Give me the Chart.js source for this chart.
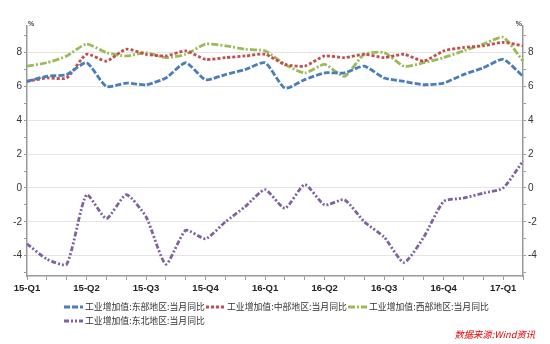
<!DOCTYPE html>
<html>
<head>
<meta charset="utf-8">
<script src="https://cdn.jsdelivr.net/npm/chart.js@4.4.1/dist/chart.umd.min.js"></script>
<style>
	html, body { margin: 0; padding: 0; background: #fff; }
	#wrap { position: relative; width: 550px; height: 344px; overflow: hidden; }
	#wrap canvas { position: absolute; left: 0; top: 0; }
	.legend-item { position: absolute; display: flex; align-items: center; font: 8.85px 'Noto Sans CJK SC'; color: #333; white-space: nowrap; line-height: 12px; }
	.legend-item svg { margin-right: 2px; }
	#source { position: absolute; right: 15px; top: 328px; font: italic 9.3px 'Noto Sans CJK SC'; color: #e60000; line-height: 12px; }
</style>
</head>
<body>
<div id="wrap">
	<canvas id="myChart" width="550" height="344"></canvas>
	<div id="legend"></div>
	<div id="source">数据来源:Wind资讯</div>
</div>
<script>
// monthly points, Feb 2015 .. Mar 2017
const months = [
	'2015-02', '2015-03', '2015-04', '2015-05', '2015-06', '2015-07', '2015-08', '2015-09', '2015-10', '2015-11', '2015-12',
	'2016-01', '2016-02', '2016-03', '2016-04', '2016-05', '2016-06', '2016-07', '2016-08', '2016-09', '2016-10', '2016-11', '2016-12',
	'2017-01', '2017-02', '2017-03'
]

// shown on every third month
const quarterLabels = ['15-Q1', '15-Q2', '15-Q3', '15-Q4', '16-Q1', '16-Q2', '16-Q3', '16-Q4', '17-Q1']

const east = [6.3, 6.6, 6.7, 7.4, 6.0, 6.2, 6.1, 6.5, 7.4, 6.4, 6.7, 7.0, 7.4, 5.9, 6.4, 6.8, 6.8, 7.2, 6.5, 6.3, 6.1, 6.2, 6.7, 7.1, 7.6, 6.6]
const central = [6.3, 6.5, 6.5, 7.9, 7.5, 8.2, 7.9, 7.8, 8.1, 7.6, 7.7, 7.8, 7.9, 7.3, 7.2, 7.8, 7.7, 7.9, 7.7, 7.9, 7.5, 8.1, 8.3, 8.4, 8.6, 8.4]
const west = [7.2, 7.4, 7.8, 8.5, 8.0, 7.8, 8.0, 7.7, 7.9, 8.5, 8.4, 8.2, 8.1, 7.3, 6.8, 7.3, 6.6, 7.9, 8.0, 7.2, 7.4, 7.7, 8.1, 8.5, 8.9, 7.5]
const northeast = [-3.3, -4.2, -4.5, -0.4, -1.8, -0.4, -1.7, -4.5, -2.5, -3.0, -2.0, -1.1, -0.1, -1.2, 0.2, -1.0, -0.7, -2.0, -2.9, -4.4, -2.9, -0.8, -0.6, -0.3, 0.0, 1.6]

const seriesNames = [
	'工业增加值:东部地区:当月同比',
	'工业增加值:中部地区:当月同比',
	'工业增加值:西部地区:当月同比',
	'工业增加值:东北地区:当月同比'
]

const yMin = -5.2
const yMax = 9.6

const styles = [
	{ color: '#4a7ebb', dash: [6, 2] },
	{ color: '#c0504d', dash: [3, 2] },
	{ color: '#9bbb59', dash: [7, 2, 2, 2] },
	{ color: '#7f63a1', dash: [5, 2, 2, 2, 2, 2] }
]

const seriesData = [east, central, west, northeast]

const datasets = seriesData.map((data, i) => ({
	label: seriesNames[i],
	data,
	borderColor: styles[i].color,
	borderDash: styles[i].dash,
	borderWidth: 2.8,
	borderCapStyle: 'butt',
	pointRadius: 0,
	tension: 0.2,
	fill: false,
	yAxisID: 'y'
}))

const unitPlugin = {
	id: 'unitMarks',
	afterDraw(chart) {
		const ctx = chart.ctx
		const area = chart.chartArea
		ctx.save()
		ctx.fillStyle = '#444'
		ctx.font = 'bold 7px "Liberation Sans"'
		ctx.textBaseline = 'middle'
		ctx.textAlign = 'left'
		ctx.fillText('%', area.left + 1, area.top - 1)
		ctx.textAlign = 'right'
		ctx.fillText('%', area.right - 1, area.top - 1)
		ctx.restore()
	}
}

function yAxis(position) {
	return {
		type: 'linear',
		position,
		min: yMin,
		max: yMax,
		afterFit: scale => { scale.width = 27 },
		border: { color: '#999', width: 1.5 },
		grid: {
			drawOnChartArea: position === 'left',
			color: c => (c.tick && c.tick.value % 2 === 0) ? '#e4e4e4' : 'rgba(0,0,0,0)',
			tickColor: '#999',
			tickLength: 3
		},
		ticks: {
			stepSize: 1,
			includeBounds: false,
			padding: 2,
			color: '#333',
			font: { family: 'Liberation Sans', size: 10 },
			callback: v => v % 2 === 0 ? String(v) : ''
		}
	}
}

new Chart(document.getElementById('myChart'), {
	type: 'line',
	data: { labels: months, datasets },
	plugins: [unitPlugin],
	options: {
		responsive: false,
		animation: false,
		layout: { padding: { top: 25.5, left: 0, right: 0, bottom: 0 } },
		plugins: {
			legend: { display: false },
			tooltip: { enabled: false }
		},
		scales: {
			x: {
				type: 'category',
				offset: false,
				afterFit: scale => { scale.height = 68 },
				border: { color: '#999', width: 1.5 },
				grid: { drawOnChartArea: false, offset: false, tickColor: '#999', tickLength: 4 },
				ticks: {
					autoSkip: false,
					maxRotation: 0,
					padding: 3,
					color: '#222',
					font: { family: 'Liberation Sans', size: 9.5, weight: 'bold' },
					callback: (v, i) => i % 3 === 0 ? quarterLabels[i / 3] : ''
				}
			},
			y: yAxis('left'),
			y2: yAxis('right')
		}
	}
})

// legend in rows of three, like the original
const legend = document.getElementById('legend')
seriesNames.forEach((name, i) => {
	const row = Math.floor(i / 3)
	const col = i % 3
	const item = document.createElement('div')
	item.className = 'legend-item'
	item.style.left = (64 + col * 142) + 'px'
	item.style.top = (300.5 + row * 14.5) + 'px'
	item.innerHTML = '<svg width="19" height="4"><line x1="0" y1="2" x2="19" y2="2" stroke="' + styles[i].color +
		'" stroke-width="3" stroke-dasharray="' + styles[i].dash.join(' ') + '"/></svg><span>' + name + '</span>'
	legend.appendChild(item)
})
</script>
</body>
</html>
